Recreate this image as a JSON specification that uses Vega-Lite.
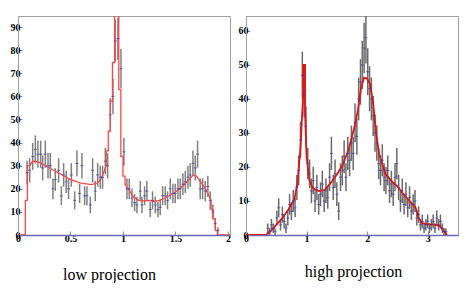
{
  "$schema": "https://vega.github.io/schema/vega-lite/v6.json",
  "padding": {"left": 9, "top": 15, "right": 2, "bottom": 0},
  "spacing": 6,
  "config": {
    "view": {"stroke": "#a0a0a0", "strokeWidth": 1},
    "axis": {
      "grid": false,
      "labelFont": "Liberation Serif",
      "labelFontWeight": "bold",
      "labelFontSize": 10,
      "labelColor": "#000000",
      "labelPadding": 2,
      "domainColor": "#a0a0a0",
      "tickColor": "#909090",
      "tickSize": -4,
      "titleFont": "Liberation Serif",
      "titleFontWeight": "normal",
      "titleFontSize": 16,
      "titleColor": "#000000"
    },
    "axisX": {"domainColor": "#6a6ab8", "domainWidth": 1.5, "labelFlush": false, "format": "~g"}
  },
  "datasets": {
    "lowPts": [
      {"x": 0.086, "y": 27, "e": 5.2}, {"x": 0.111, "y": 28, "e": 5.3}, {"x": 0.140, "y": 34, "e": 5.8},
      {"x": 0.165, "y": 37, "e": 6.1}, {"x": 0.190, "y": 35, "e": 5.9}, {"x": 0.216, "y": 35, "e": 5.9},
      {"x": 0.235, "y": 29, "e": 5.4}, {"x": 0.260, "y": 35, "e": 5.9}, {"x": 0.286, "y": 30, "e": 5.5},
      {"x": 0.308, "y": 30, "e": 5.5}, {"x": 0.333, "y": 20, "e": 4.5}, {"x": 0.355, "y": 24, "e": 4.9},
      {"x": 0.387, "y": 28, "e": 5.3}, {"x": 0.413, "y": 17, "e": 4.1}, {"x": 0.435, "y": 26, "e": 5.1},
      {"x": 0.460, "y": 23, "e": 4.8}, {"x": 0.482, "y": 20, "e": 4.5}, {"x": 0.508, "y": 26, "e": 5.1},
      {"x": 0.540, "y": 15, "e": 3.9}, {"x": 0.562, "y": 31, "e": 5.6}, {"x": 0.587, "y": 18, "e": 4.2},
      {"x": 0.609, "y": 30, "e": 5.5}, {"x": 0.635, "y": 17, "e": 4.1}, {"x": 0.657, "y": 17, "e": 4.1},
      {"x": 0.689, "y": 13, "e": 3.6}, {"x": 0.711, "y": 28, "e": 5.3}, {"x": 0.736, "y": 19, "e": 4.4},
      {"x": 0.759, "y": 26, "e": 5.1}, {"x": 0.784, "y": 25, "e": 5.0}, {"x": 0.806, "y": 25, "e": 5.0},
      {"x": 0.832, "y": 32, "e": 5.7}, {"x": 0.854, "y": 30, "e": 5.5}, {"x": 0.879, "y": 52, "e": 7.2},
      {"x": 0.905, "y": 60, "e": 7.7}, {"x": 0.927, "y": 84, "e": 9.2}, {"x": 0.952, "y": 85, "e": 9.2},
      {"x": 0.981, "y": 72, "e": 8.5}, {"x": 1.009, "y": 36, "e": 6.0}, {"x": 1.038, "y": 20, "e": 4.5},
      {"x": 1.060, "y": 20, "e": 4.5}, {"x": 1.086, "y": 16, "e": 4.0}, {"x": 1.111, "y": 14, "e": 3.7},
      {"x": 1.133, "y": 13, "e": 3.6}, {"x": 1.165, "y": 19, "e": 4.4}, {"x": 1.181, "y": 13, "e": 3.6},
      {"x": 1.206, "y": 17, "e": 4.1}, {"x": 1.228, "y": 19, "e": 4.4}, {"x": 1.260, "y": 11, "e": 3.3},
      {"x": 1.282, "y": 15, "e": 3.9}, {"x": 1.308, "y": 13, "e": 3.6}, {"x": 1.333, "y": 11, "e": 3.3},
      {"x": 1.355, "y": 12, "e": 3.5}, {"x": 1.378, "y": 17, "e": 4.1}, {"x": 1.403, "y": 17, "e": 4.1},
      {"x": 1.425, "y": 15, "e": 3.9}, {"x": 1.451, "y": 20, "e": 4.5}, {"x": 1.476, "y": 18, "e": 4.2},
      {"x": 1.498, "y": 18, "e": 4.2}, {"x": 1.524, "y": 20, "e": 4.5}, {"x": 1.546, "y": 20, "e": 4.5},
      {"x": 1.571, "y": 22, "e": 4.7}, {"x": 1.594, "y": 23, "e": 4.8}, {"x": 1.619, "y": 25, "e": 5.0},
      {"x": 1.641, "y": 26, "e": 5.1}, {"x": 1.667, "y": 31, "e": 5.6}, {"x": 1.689, "y": 29, "e": 5.4},
      {"x": 1.711, "y": 35, "e": 5.9}, {"x": 1.736, "y": 20, "e": 4.5}, {"x": 1.759, "y": 20, "e": 4.5},
      {"x": 1.784, "y": 19, "e": 4.4}, {"x": 1.809, "y": 21, "e": 4.6}, {"x": 1.832, "y": 15, "e": 3.9},
      {"x": 1.857, "y": 10, "e": 3.2}, {"x": 1.879, "y": 5, "e": 2.2}, {"x": 1.905, "y": 2, "e": 1.4}
    ],
    "lowFit": [
      {"i": 1, "x": 0, "y": 0}, {"i": 2, "x": 0.07, "y": 0}, {"i": 3, "x": 0.07, "y": 15},
      {"i": 4, "x": 0.09, "y": 15}, {"i": 5, "x": 0.09, "y": 30}, {"i": 6, "x": 0.11, "y": 30},
      {"i": 7, "x": 0.14, "y": 32}, {"i": 8, "x": 0.2, "y": 31.5}, {"i": 9, "x": 0.3, "y": 29},
      {"i": 10, "x": 0.4, "y": 26.5}, {"i": 11, "x": 0.5, "y": 24}, {"i": 12, "x": 0.6, "y": 22.5},
      {"i": 13, "x": 0.7, "y": 21.8}, {"i": 14, "x": 0.76, "y": 22.5}, {"i": 15, "x": 0.8, "y": 25},
      {"i": 16, "x": 0.82, "y": 27.5}, {"i": 17, "x": 0.84, "y": 30}, {"i": 18, "x": 0.84, "y": 36.4},
      {"i": 19, "x": 0.86, "y": 36.4}, {"i": 20, "x": 0.86, "y": 45}, {"i": 21, "x": 0.88, "y": 45},
      {"i": 22, "x": 0.88, "y": 58}, {"i": 23, "x": 0.9, "y": 58}, {"i": 24, "x": 0.9, "y": 74.6},
      {"i": 25, "x": 0.92, "y": 74.6}, {"i": 26, "x": 0.92, "y": 110}, {"i": 27, "x": 0.96, "y": 110},
      {"i": 28, "x": 0.96, "y": 63}, {"i": 29, "x": 0.98, "y": 63}, {"i": 30, "x": 0.98, "y": 34},
      {"i": 31, "x": 1.0, "y": 34}, {"i": 32, "x": 1.0, "y": 25.5}, {"i": 33, "x": 1.02, "y": 25.5},
      {"i": 34, "x": 1.02, "y": 22}, {"i": 35, "x": 1.05, "y": 20}, {"i": 36, "x": 1.1, "y": 16.5},
      {"i": 37, "x": 1.15, "y": 15}, {"i": 38, "x": 1.2, "y": 14.8}, {"i": 39, "x": 1.25, "y": 15},
      {"i": 40, "x": 1.3, "y": 14.5}, {"i": 41, "x": 1.35, "y": 15}, {"i": 42, "x": 1.4, "y": 16},
      {"i": 43, "x": 1.5, "y": 18.5}, {"i": 44, "x": 1.6, "y": 22.5}, {"i": 45, "x": 1.67, "y": 26},
      {"i": 46, "x": 1.7, "y": 25.5}, {"i": 47, "x": 1.75, "y": 22.5}, {"i": 48, "x": 1.8, "y": 19},
      {"i": 49, "x": 1.82, "y": 17}, {"i": 50, "x": 1.84, "y": 15}, {"i": 51, "x": 1.84, "y": 11},
      {"i": 52, "x": 1.86, "y": 11}, {"i": 53, "x": 1.86, "y": 7}, {"i": 54, "x": 1.88, "y": 7},
      {"i": 55, "x": 1.88, "y": 2}, {"i": 56, "x": 1.9, "y": 2}, {"i": 57, "x": 1.9, "y": 0},
      {"i": 58, "x": 2.02, "y": 0}
    ],
    "highPts": [
      {"x": 0.36, "y": 2, "e": 1.4}, {"x": 0.39, "y": 1, "e": 1.0}, {"x": 0.42, "y": 3, "e": 1.7},
      {"x": 0.45, "y": 2, "e": 1.4}, {"x": 0.48, "y": 1, "e": 1.0}, {"x": 0.51, "y": 5, "e": 2.2},
      {"x": 0.54, "y": 8, "e": 2.8}, {"x": 0.57, "y": 3, "e": 1.7}, {"x": 0.60, "y": 6, "e": 2.4},
      {"x": 0.63, "y": 4, "e": 2.0}, {"x": 0.66, "y": 2, "e": 1.4}, {"x": 0.69, "y": 5, "e": 2.2},
      {"x": 0.72, "y": 9, "e": 3.0}, {"x": 0.75, "y": 7, "e": 2.6}, {"x": 0.78, "y": 10, "e": 3.2},
      {"x": 0.81, "y": 8, "e": 2.8}, {"x": 0.84, "y": 14, "e": 3.7}, {"x": 0.87, "y": 19, "e": 4.4},
      {"x": 0.90, "y": 28, "e": 5.3}, {"x": 0.93, "y": 47, "e": 6.9}, {"x": 0.96, "y": 41, "e": 6.4},
      {"x": 0.99, "y": 32, "e": 5.7}, {"x": 1.02, "y": 21, "e": 4.6}, {"x": 1.05, "y": 18, "e": 4.2},
      {"x": 1.08, "y": 13, "e": 3.6}, {"x": 1.11, "y": 16, "e": 4.0}, {"x": 1.14, "y": 10, "e": 3.2},
      {"x": 1.17, "y": 14, "e": 3.7}, {"x": 1.20, "y": 9, "e": 3.0}, {"x": 1.23, "y": 12, "e": 3.5},
      {"x": 1.26, "y": 15, "e": 3.9}, {"x": 1.29, "y": 10, "e": 3.2}, {"x": 1.32, "y": 13, "e": 3.6},
      {"x": 1.35, "y": 11, "e": 3.3}, {"x": 1.38, "y": 17, "e": 4.1}, {"x": 1.41, "y": 24, "e": 4.9},
      {"x": 1.44, "y": 14, "e": 3.7}, {"x": 1.47, "y": 18, "e": 4.2}, {"x": 1.50, "y": 12, "e": 3.5},
      {"x": 1.53, "y": 7, "e": 2.6}, {"x": 1.56, "y": 17, "e": 4.1}, {"x": 1.59, "y": 19, "e": 4.4},
      {"x": 1.62, "y": 23, "e": 4.8}, {"x": 1.65, "y": 17, "e": 4.1}, {"x": 1.68, "y": 24, "e": 4.9},
      {"x": 1.71, "y": 22, "e": 4.7}, {"x": 1.74, "y": 27, "e": 5.2}, {"x": 1.77, "y": 24, "e": 4.9},
      {"x": 1.80, "y": 33, "e": 5.7}, {"x": 1.83, "y": 29, "e": 5.4}, {"x": 1.86, "y": 40, "e": 6.3},
      {"x": 1.89, "y": 45, "e": 6.7}, {"x": 1.92, "y": 50, "e": 7.1}, {"x": 1.95, "y": 55, "e": 7.4},
      {"x": 1.98, "y": 58, "e": 7.6}, {"x": 2.01, "y": 48, "e": 6.9}, {"x": 2.04, "y": 43, "e": 6.6},
      {"x": 2.07, "y": 40, "e": 6.3}, {"x": 2.10, "y": 35, "e": 5.9}, {"x": 2.13, "y": 30, "e": 5.5},
      {"x": 2.16, "y": 27, "e": 5.2}, {"x": 2.19, "y": 21, "e": 4.6}, {"x": 2.22, "y": 19, "e": 4.4},
      {"x": 2.25, "y": 22, "e": 4.7}, {"x": 2.28, "y": 17, "e": 4.1}, {"x": 2.31, "y": 16, "e": 4.0},
      {"x": 2.34, "y": 19, "e": 4.4}, {"x": 2.37, "y": 13, "e": 3.6}, {"x": 2.40, "y": 15, "e": 3.9},
      {"x": 2.43, "y": 12, "e": 3.5}, {"x": 2.46, "y": 17, "e": 4.1}, {"x": 2.49, "y": 21, "e": 4.6},
      {"x": 2.52, "y": 14, "e": 3.7}, {"x": 2.55, "y": 10, "e": 3.2}, {"x": 2.58, "y": 13, "e": 3.6},
      {"x": 2.61, "y": 9, "e": 3.0}, {"x": 2.64, "y": 12, "e": 3.5}, {"x": 2.67, "y": 8, "e": 2.8},
      {"x": 2.70, "y": 11, "e": 3.3}, {"x": 2.73, "y": 7, "e": 2.6}, {"x": 2.76, "y": 9, "e": 3.0},
      {"x": 2.79, "y": 10, "e": 3.2}, {"x": 2.82, "y": 5, "e": 2.2}, {"x": 2.85, "y": 6, "e": 2.4},
      {"x": 2.88, "y": 3, "e": 1.7}, {"x": 2.91, "y": 4, "e": 2.0}, {"x": 2.94, "y": 2, "e": 1.4},
      {"x": 2.97, "y": 3, "e": 1.7}, {"x": 3.00, "y": 4, "e": 2.0}, {"x": 3.03, "y": 2, "e": 1.4},
      {"x": 3.06, "y": 3, "e": 1.7}, {"x": 3.09, "y": 4, "e": 2.0}, {"x": 3.12, "y": 2, "e": 1.4},
      {"x": 3.15, "y": 5, "e": 2.2}, {"x": 3.18, "y": 3, "e": 1.7}, {"x": 3.21, "y": 4, "e": 2.0},
      {"x": 3.24, "y": 2, "e": 1.4}, {"x": 3.27, "y": 1, "e": 1.0}, {"x": 3.30, "y": 1, "e": 1.0}
    ],
    "highFit": [
      {"i": 1, "x": 0, "y": 0}, {"i": 2, "x": 0.33, "y": 0}, {"i": 3, "x": 0.4, "y": 1},
      {"i": 4, "x": 0.5, "y": 3}, {"i": 5, "x": 0.6, "y": 5}, {"i": 6, "x": 0.7, "y": 7.5},
      {"i": 7, "x": 0.8, "y": 10.5}, {"i": 8, "x": 0.85, "y": 15.5}, {"i": 9, "x": 0.9, "y": 25.7},
      {"i": 10, "x": 0.93, "y": 36.5}, {"i": 11, "x": 0.945, "y": 41}, {"i": 12, "x": 0.945, "y": 50},
      {"i": 13, "x": 0.975, "y": 50}, {"i": 14, "x": 0.975, "y": 36}, {"i": 15, "x": 1.0, "y": 22.8},
      {"i": 16, "x": 1.05, "y": 15.9}, {"i": 17, "x": 1.1, "y": 13.8}, {"i": 18, "x": 1.2, "y": 12.9},
      {"i": 19, "x": 1.3, "y": 13.3}, {"i": 20, "x": 1.4, "y": 15.3}, {"i": 21, "x": 1.5, "y": 17.8},
      {"i": 22, "x": 1.6, "y": 20.7}, {"i": 23, "x": 1.7, "y": 25.5}, {"i": 24, "x": 1.8, "y": 32.5},
      {"i": 25, "x": 1.85, "y": 37}, {"i": 26, "x": 1.9, "y": 43.3}, {"i": 27, "x": 1.95, "y": 46.3},
      {"i": 28, "x": 2.0, "y": 46}, {"i": 29, "x": 2.05, "y": 44.3}, {"i": 30, "x": 2.1, "y": 38.5},
      {"i": 31, "x": 2.15, "y": 29.6}, {"i": 32, "x": 2.2, "y": 23.7}, {"i": 33, "x": 2.3, "y": 18},
      {"i": 34, "x": 2.4, "y": 15.9}, {"i": 35, "x": 2.5, "y": 14.3}, {"i": 36, "x": 2.6, "y": 12},
      {"i": 37, "x": 2.7, "y": 10}, {"i": 38, "x": 2.8, "y": 8}, {"i": 39, "x": 2.85, "y": 5.1},
      {"i": 40, "x": 2.9, "y": 3.6}, {"i": 41, "x": 3.0, "y": 3.1}, {"i": 42, "x": 3.1, "y": 3.1},
      {"i": 43, "x": 3.2, "y": 2.6}, {"i": 44, "x": 3.25, "y": 1.6}, {"i": 45, "x": 3.3, "y": 0.4},
      {"i": 46, "x": 3.32, "y": 0}
    ]
  },
  "hconcat": [
    {
      "width": 212,
      "height": 219,
      "encoding": {
        "x": {"field": "x", "type": "quantitative", "scale": {"domain": [0, 2.02], "nice": false, "zero": false},
              "axis": {"values": [0, 0.5, 1, 1.5, 2], "title": "low projection", "titleX": 91, "titleY": 44, "titleAlign": "center", "titleBaseline": "alphabetic"}},
        "y": {"field": "y", "type": "quantitative", "scale": {"domain": [0, 94.8], "nice": false},
              "axis": {"values": [0, 10, 20, 30, 40, 50, 60, 70, 80, 90], "title": null}}
      },
      "layer": [
        {"data": {"name": "lowPts"}, "mark": {"type": "errorbar", "color": "#808080", "thickness": 1.5, "clip": true},
         "encoding": {"yError": {"field": "e"}}},
        {"data": {"name": "lowFit"}, "mark": {"type": "line", "color": "#ff4545", "strokeWidth": 1.3, "clip": true},
         "encoding": {"order": {"field": "i", "type": "quantitative"}}},
        {"data": {"name": "lowPts"}, "mark": {"type": "tick", "orient": "horizontal", "size": 3, "thickness": 1, "color": "#3030d0", "clip": true},
         "encoding": {}}
      ]
    },
    {
      "width": 212,
      "height": 219,
      "encoding": {
        "x": {"field": "x", "type": "quantitative", "scale": {"domain": [0, 3.5], "nice": false, "zero": false},
              "axis": {"values": [0, 1, 2, 3], "title": "high projection", "titleX": 107, "titleY": 41, "titleAlign": "center", "titleBaseline": "alphabetic"}},
        "y": {"field": "y", "type": "quantitative", "scale": {"domain": [0, 64.4], "nice": false},
              "axis": {"values": [0, 10, 20, 30, 40, 50, 60], "title": null}}
      },
      "layer": [
        {"data": {"name": "highPts"}, "mark": {"type": "errorbar", "color": "#6a6a6a", "thickness": 1.5, "clip": true},
         "encoding": {"yError": {"field": "e"}}},
        {"data": {"name": "highFit"}, "mark": {"type": "line", "color": "#dd1515", "strokeWidth": 1.8, "clip": true},
         "encoding": {"order": {"field": "i", "type": "quantitative"}}},
        {"data": {"name": "highPts"}, "mark": {"type": "tick", "orient": "horizontal", "size": 3, "thickness": 1, "color": "#3030d0", "clip": true},
         "encoding": {}}
      ]
    }
  ]
}
